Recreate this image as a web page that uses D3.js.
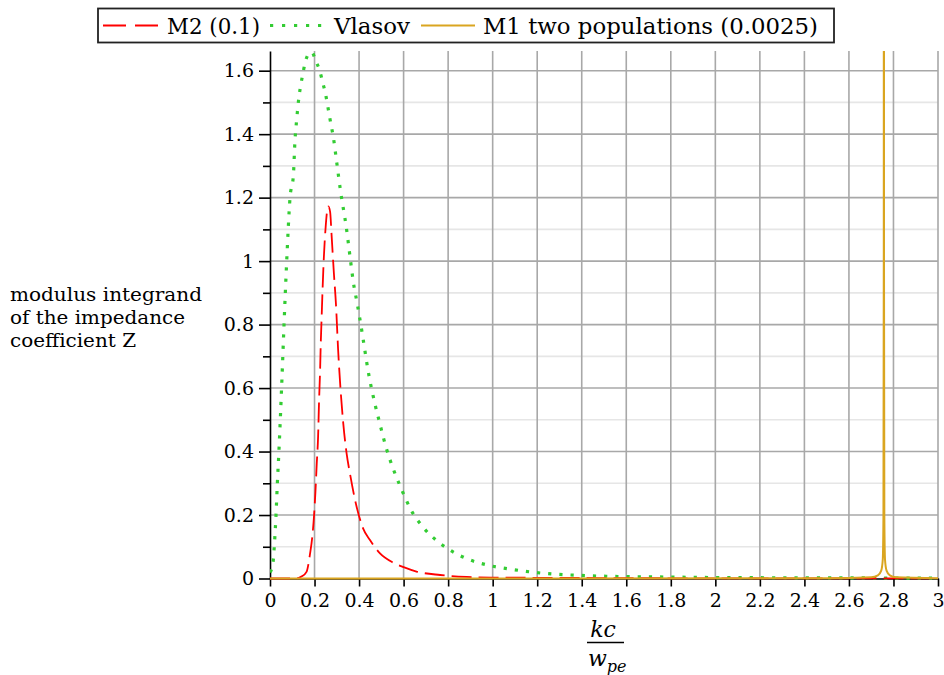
<!DOCTYPE html>
<html>
<head>
<meta charset="utf-8">
<script src="https://cdn.jsdelivr.net/npm/d3@7/dist/d3.min.js"></script>
<style>
  html, body { margin: 0; padding: 0; background: #fff; }
  svg { display: block; }
</style>
</head>
<body>
<svg id="chart" width="944" height="675"></svg>
<script>
// ---------- data ----------
const xTickValues = [0, 0.2, 0.4, 0.6, 0.8, 1, 1.2, 1.4, 1.6, 1.8, 2, 2.2, 2.4, 2.6, 2.8, 3];
const xTickLabels = ["0", "0.2", "0.4", "0.6", "0.8", "1", "1.2", "1.4", "1.6", "1.8", "2", "2.2", "2.4", "2.6", "2.8", "3"];
const yTickValues = [0, 0.2, 0.4, 0.6, 0.8, 1, 1.2, 1.4, 1.6];
const yTickLabels = ["0", "0.2", "0.4", "0.6", "0.8", "1", "1.2", "1.4", "1.6"];
const yMinorValues = [0.1, 0.3, 0.5, 0.7, 0.9, 1.1, 1.3, 1.5];

const seriesNames = ["M2 (0.1)", "Vlasov", "M1 two populations (0.0025)"];

// M2 (0.1) : [kc/wpe, value]
const m2Data = [
  [0, 0], [0.12, 0.0], [0.141, 0.006], [0.164, 0.021], [0.18, 0.079], [0.19, 0.132],
  [0.198, 0.2], [0.204, 0.273], [0.21, 0.363], [0.216, 0.447], [0.22, 0.552],
  [0.225, 0.657], [0.228, 0.741], [0.232, 0.825], [0.236, 0.909], [0.242, 1.014],
  [0.25, 1.108], [0.257, 1.161], [0.262, 1.172], [0.27, 1.155], [0.277, 1.077],
  [0.287, 0.961], [0.296, 0.867], [0.306, 0.72], [0.317, 0.594], [0.329, 0.489],
  [0.344, 0.394], [0.359, 0.331], [0.389, 0.226], [0.418, 0.158], [0.449, 0.121],
  [0.494, 0.079], [0.553, 0.05], [0.6, 0.036], [0.658, 0.022], [0.764, 0.011],
  [0.883, 0.005], [0.993, 0.003], [1.29, 0.002], [1.6, 0.001], [2.0, 0.0005], [3.0, 0.0002]
];

// Vlasov
const vlasovData = [
  [0.0, 0.02], [0.007, 0.03], [0.015, 0.06], [0.02, 0.11], [0.027, 0.2], [0.033, 0.3],
  [0.04, 0.4], [0.052, 0.6], [0.063, 0.8], [0.075, 1.0], [0.09, 1.2], [0.105, 1.27],
  [0.112, 1.378], [0.12, 1.447], [0.13, 1.517], [0.138, 1.554], [0.147, 1.588],
  [0.157, 1.623], [0.176, 1.655], [0.188, 1.658], [0.206, 1.63], [0.225, 1.596],
  [0.237, 1.562], [0.249, 1.528], [0.258, 1.494], [0.267, 1.457], [0.276, 1.423],
  [0.285, 1.388], [0.298, 1.32], [0.318, 1.215], [0.342, 1.11], [0.361, 1.005],
  [0.374, 0.935], [0.392, 0.865], [0.409, 0.795], [0.424, 0.728], [0.44, 0.657],
  [0.47, 0.554], [0.494, 0.486], [0.52, 0.416], [0.551, 0.35], [0.589, 0.284],
  [0.631, 0.219], [0.687, 0.162], [0.76, 0.113], [0.8, 0.093], [0.889, 0.061],
  [0.985, 0.041], [1.084, 0.029], [1.235, 0.016], [1.385, 0.01], [1.587, 0.006],
  [1.737, 0.005], [2.0, 0.003], [2.5, 0.002], [3.0, 0.001]
];

// M1 two populations (0.0025) : very narrow resonance
const m1Data = [
  [0, 0], [2.5, 0.001], [2.7, 0.004], [2.73, 0.01], [2.745, 0.025], [2.752, 0.06],
  [2.755, 0.2], [2.7565, 1.0], [2.757, 5.0], [2.7575, 1.0], [2.759, 0.2],
  [2.762, 0.06], [2.769, 0.025], [2.784, 0.01], [2.81, 0.004], [3.0, 0.001]
];

// ---------- font pick: first installed serif, else sans ----------
function pickFont() {
  const cands = ["DejaVu Serif", "Liberation Serif", "Tinos", "Noto Serif", "Times New Roman",
    "FreeSerif", "Nimbus Roman", "Nimbus Roman No9 L", "Georgia", "Noto Serif CJK SC", "Noto Serif CJK JP"];
  const ctx = document.createElement("canvas").getContext("2d");
  const s = "modulus integrand 0.123456789 MWiil";
  const w = f => { ctx.font = "40px " + f; return ctx.measureText(s).width; };
  const mono = w("monospace"), sans = w("sans-serif");
  for (const c of cands) {
    if (w(`"${c}", monospace`) !== mono || w(`"${c}", sans-serif`) !== sans) return `"${c}", serif`;
  }
  return '"DejaVu Sans", sans-serif';
}
const FONT = pickFont();

// ---------- layout ----------
const svg = d3.select("#chart").style("font-family", FONT);
const X0 = 270, X1 = 938, Y0 = 578.5, Y1 = 51;
const x = d3.scaleLinear().domain([0, 3]).range([X0, X1]);
const y = d3.scaleLinear().domain([0, 1.662]).range([Y0, Y1]);

svg.append("defs").append("clipPath").attr("id", "plotclip")
  .append("rect").attr("x", X0).attr("y", Y1).attr("width", X1 - X0 + 2).attr("height", Y0 - Y1 + 2);

// grid
const grid = svg.append("g");
grid.selectAll("line.ymin").data(yMinorValues).enter().append("line")
  .attr("x1", X0).attr("x2", X1).attr("y1", d => y(d)).attr("y2", d => y(d))
  .attr("stroke", "#e6e6e6").attr("stroke-width", 1.6);
grid.selectAll("line.ymaj").data(yTickValues.slice(1)).enter().append("line")
  .attr("x1", X0).attr("x2", X1).attr("y1", d => y(d)).attr("y2", d => y(d))
  .attr("stroke", "#a8a8a8").attr("stroke-width", 1.6);
grid.selectAll("line.xmaj").data(xTickValues.slice(1)).enter().append("line")
  .attr("x1", d => x(d)).attr("x2", d => x(d)).attr("y1", Y0).attr("y2", Y1)
  .attr("stroke", "#a8a8a8").attr("stroke-width", 1.6);

// axes
const xAxis = d3.axisBottom(x).tickValues(xTickValues)
  .tickFormat((d, i) => xTickLabels[i]).tickSizeInner(8).tickSizeOuter(0).tickPadding(9);
const gx = svg.append("g").attr("transform", `translate(0,${Y0})`).call(xAxis);
gx.select(".domain").attr("stroke", "#000").attr("stroke-width", 1.6);
gx.selectAll(".tick line").attr("stroke", "#000").attr("stroke-width", 1.6);
gx.selectAll(".tick text").style("font-family", FONT).attr("font-size", 19).attr("fill", "#000")
  .attr("dy", "0.62em");

const yAxis = d3.axisLeft(y).tickValues(yTickValues)
  .tickFormat((d, i) => yTickLabels[i]).tickSizeInner(11).tickSizeOuter(0).tickPadding(5);
const gy = svg.append("g").attr("transform", `translate(${X0},0)`).call(yAxis);
gy.select(".domain").attr("stroke", "#000").attr("stroke-width", 1.6);
gy.selectAll(".tick line").attr("stroke", "#000").attr("stroke-width", 1.6);
gy.selectAll(".tick text").style("font-family", FONT).attr("font-size", 19).attr("fill", "#000");
const yMinorAxis = d3.axisLeft(y).tickValues(yMinorValues).tickFormat("").tickSizeInner(7).tickSizeOuter(0);
const gym = svg.append("g").attr("transform", `translate(${X0},0)`).call(yMinorAxis);
gym.select(".domain").remove();
gym.selectAll(".tick line").attr("stroke", "#000").attr("stroke-width", 1.6);

// curves
const line = d3.line().x(d => x(d[0])).y(d => y(d[1])).curve(d3.curveMonotoneX);
const plot = svg.append("g").attr("clip-path", "url(#plotclip)");
const styles = [
  { color: "#ff0000", width: 1.8, dash: "20,7" },
  { color: "#33cc33", width: 3.2, dash: "3.2,8" },
  { color: "#daa520", width: 2, dash: null }
];
const allData = [m2Data, vlasovData, m1Data];
[1, 0, 2].forEach(i => {
  plot.append("path").datum(allData[i]).attr("d", line)
    .attr("fill", "none").attr("stroke", styles[i].color)
    .attr("stroke-width", styles[i].width)
    .attr("stroke-dasharray", styles[i].dash)
    .attr("stroke-linejoin", "round");
});

// legend
const lg = svg.append("g");
lg.append("rect").attr("x", 98).attr("y", 8.5).attr("width", 736).attr("height", 34)
  .attr("fill", "#fff").attr("stroke", "#222").attr("stroke-width", 1.8);
const legendItems = [
  { lx1: 103, lx2: 159, tx: 167, tw: 93 },
  { lx1: 270, lx2: 322, tx: 334, tw: 76 },
  { lx1: 421, lx2: 475, tx: 483, tw: 335 }
];
const legendDash = ["23,9", "3.2,8.8", null];
legendItems.forEach((it, i) => {
  lg.append("line").attr("x1", it.lx1).attr("x2", it.lx2).attr("y1", 25.5).attr("y2", 25.5)
    .attr("stroke", styles[i].color).attr("stroke-width", styles[i].width)
    .attr("stroke-dasharray", legendDash[i]);
  lg.append("text").attr("x", it.tx).attr("y", 34).attr("font-size", 22)
    .attr("textLength", it.tw).attr("lengthAdjust", "spacingAndGlyphs")
    .text(seriesNames[i]);
});

// y label
const yLabelLines = ["modulus integrand", "of the impedance", "coefficient Z"];
const yLabelWidths = [192, 175, 126];
svg.append("g").selectAll("text").data(yLabelLines).enter().append("text")
  .attr("x", 10).attr("y", (d, i) => 301 + i * 23)
  .attr("font-size", 19)
  .attr("textLength", (d, i) => yLabelWidths[i]).attr("lengthAdjust", "spacingAndGlyphs")
  .text(d => d);

// x label (fraction)
const xl = svg.append("g");
xl.append("text").attr("x", 603).attr("y", 637).attr("text-anchor", "middle")
  .attr("font-size", 22).attr("font-style", "italic").text("kc");
xl.append("line").attr("x1", 587).attr("x2", 624).attr("y1", 642.5).attr("y2", 642.5)
  .attr("stroke", "#000").attr("stroke-width", 1.6);
const wt = xl.append("text").attr("x", 588).attr("y", 666).attr("font-size", 22).attr("font-style", "italic");
wt.append("tspan").text("w");
wt.append("tspan").attr("dy", 6).attr("font-size", 16).text("pe");
</script>
</body>
</html>
